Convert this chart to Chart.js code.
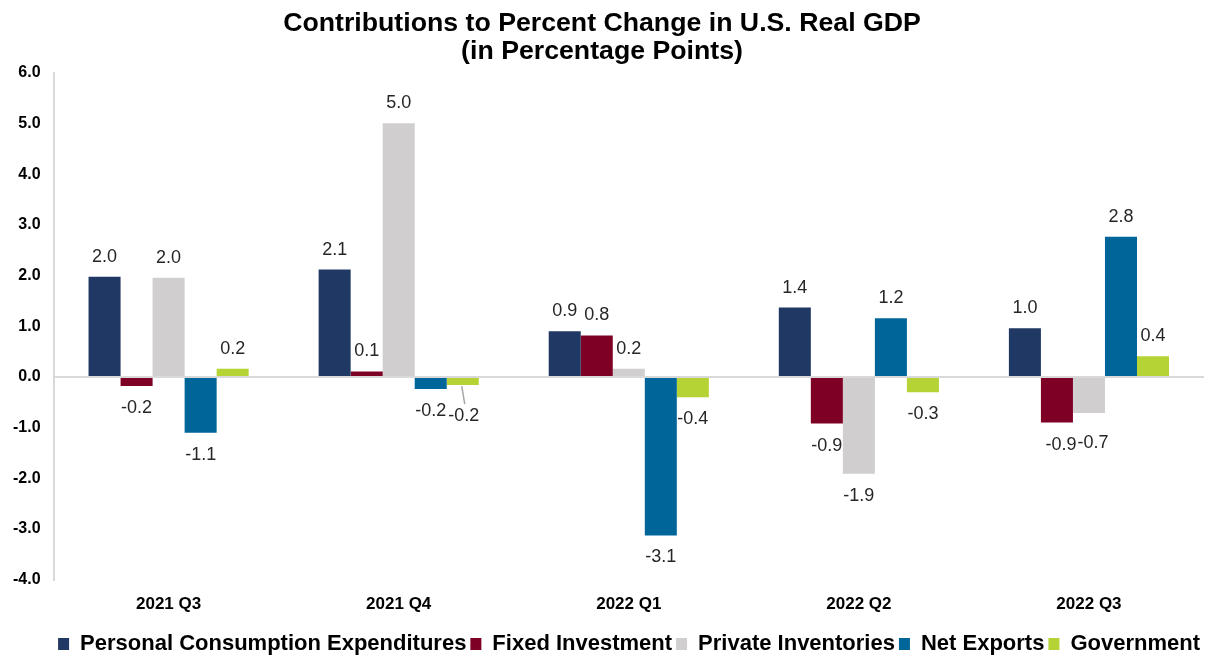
<!DOCTYPE html>
<html>
<head>
<meta charset="utf-8">
<script src="https://cdn.jsdelivr.net/npm/chart.js@4"></script>
<style>
  html, body { margin: 0; padding: 0; background: #fff; }
  #wrap { width: 1217px; height: 658px; }
</style>
</head>
<body>
<div id="wrap"><canvas id="gdpChart"></canvas></div>
<script>
// Dados (pontos percentuais)
const quarters = ["2021 Q3", "2021 Q4", "2022 Q1", "2022 Q2", "2022 Q3"];
const pce = [1.98, 2.12, 0.90, 1.37, 0.96];
const fixedInvestment = [-0.18, 0.11, 0.82, -0.92, -0.90];
const privateInventories = [1.96, 5.01, 0.16, -1.91, -0.71];
const netExports = [-1.10, -0.24, -3.13, 1.16, 2.77];
const government = [0.16, -0.16, -0.40, -0.30, 0.41];
const yTicks = [-4, -3, -2, -1, 0, 1, 2, 3, 4, 5, 6];

const FONT = "'Liberation Sans', Arial, sans-serif";

// Ajustes manuais de alguns rótulos (dataset, índice)
const labelNudges = {
  "4-1": { dx: 1, dy: 9, leader: true },
  "1-4": { dx: 4, dy: 0 },
  "2-4": { dx: 4, dy: 8 }
};

// Plugin simples para escrever os valores nas barras
const valueLabels = {
  id: "valueLabels",
  afterDatasetsDraw(chart) {
    const ctx = chart.ctx;
    ctx.save();
    ctx.font = "18px " + FONT;
    ctx.fillStyle = "#262626";
    ctx.textAlign = "center";
    ctx.textBaseline = "middle";
    chart.data.datasets.forEach((ds, di) => {
      const meta = chart.getDatasetMeta(di);
      meta.data.forEach((bar, i) => {
        const v = ds.data[i];
        let x = bar.x;
        let y = v >= 0 ? bar.y - 20 : bar.y + 22;
        const nudge = labelNudges[di + "-" + i];
        if (nudge) {
          x += nudge.dx;
          y += nudge.dy;
          if (nudge.leader) {
            ctx.strokeStyle = "#a6a6a6";
            ctx.lineWidth = 1.5;
            ctx.beginPath();
            ctx.moveTo(bar.x - 1, bar.y + 1);
            ctx.lineTo(x + 1, y - 12);
            ctx.stroke();
          }
        }
        ctx.fillText(v.toFixed(1), x, y);
      });
    });
    ctx.restore();
  }
};

const ctx = document.getElementById("gdpChart").getContext("2d");
new Chart(ctx, {
  type: "bar",
  data: {
    labels: quarters,
    datasets: [
      { label: "Personal Consumption Expenditures", data: pce, backgroundColor: "#203864" },
      { label: "Fixed Investment", data: fixedInvestment, backgroundColor: "#7f0025" },
      { label: "Private Inventories", data: privateInventories, backgroundColor: "#d0cece" },
      { label: "Net Exports", data: netExports, backgroundColor: "#006699" },
      { label: "Government", data: government, backgroundColor: "#b5d334" }
    ]
  },
  options: {
    responsive: true,
    maintainAspectRatio: false,
    animation: false,
    layout: { padding: { left: 0, right: 13, top: 0, bottom: -7 } },
    datasets: {
      bar: { barPercentage: 1.0, categoryPercentage: 0.696 }
    },
    scales: {
      x: {
        grid: { display: false },
        border: { display: false },
        afterFit: axis => { axis.height += 7; },
        ticks: {
          color: "#000",
          padding: 7,
          font: { family: FONT, size: 17, weight: "bold" }
        }
      },
      y: {
        min: -4,
        max: 6,
        afterBuildTicks: axis => { axis.ticks = yTicks.map(v => ({ value: v })); },
        grid: {
          drawTicks: false,
          lineWidth: 2,
          color: c => (c.tick && c.tick.value === 0 ? "#d9d9d9" : "rgba(0,0,0,0)")
        },
        border: { color: "#d9d9d9", width: 2 },
        ticks: {
          color: "#000",
          padding: 13,
          font: { family: FONT, size: 16, weight: "bold" },
          callback: v => Number(v).toFixed(1)
        }
      }
    },
    plugins: {
      title: {
        display: true,
        text: ["Contributions to Percent Change in U.S. Real GDP", "(in Percentage Points)"],
        color: "#000",
        font: { family: FONT, size: 26.7, weight: "bold", lineHeight: 1.03 },
        padding: { top: 10, bottom: 8 }
      },
      legend: {
        position: "bottom",
        align: "end",
        labels: {
          color: "#000",
          boxWidth: 11,
          boxHeight: 12,
          padding: 4,
          font: { family: FONT, size: 22, weight: "bold", lineHeight: 1.0 }
        }
      },
      tooltip: { enabled: false }
    }
  },
  plugins: [valueLabels]
});
</script>
</body>
</html>
